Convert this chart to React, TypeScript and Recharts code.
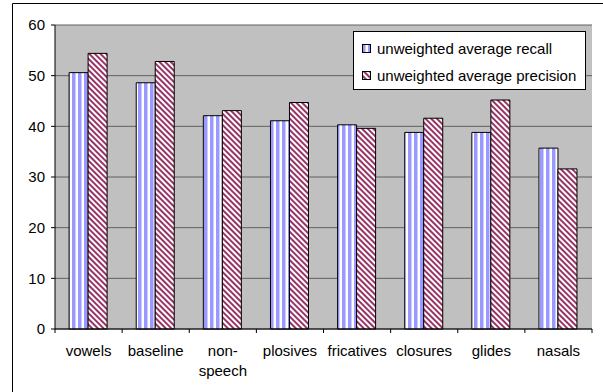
import React from "react";
import { BarChart, Bar, XAxis, YAxis, CartesianGrid } from "recharts";

const categories = ["vowels", "baseline", "non-speech", "plosives", "fricatives", "closures", "glides", "nasals"];
const recall = [50.6, 48.6, 42.1, 41.1, 40.3, 38.8, 38.8, 35.7];
const precision = [54.4, 52.8, 43.1, 44.7, 39.6, 41.6, 45.2, 31.6];
const yTicks = [0, 10, 20, 30, 40, 50, 60];
const seriesNames = ["unweighted average recall", "unweighted average precision"];

const data = categories.map((name, i) => ({
  name,
  recall: recall[i],
  precision: precision[i],
}));

const FONT = "Arial, 'Liberation Sans', sans-serif";

function CategoryTick(props: any) {
  const { x, y, payload, index, width, visibleTicksCount } = props;
  const band = width / visibleTicksCount;
  const label: string = payload.value;
  const lines = label.includes("-") ? [label.split("-")[0] + "-", label.split("-")[1]] : [label];
  return (
    <g>
      <line x1={x - band / 2} x2={x - band / 2} y1={y - 4} y2={y} stroke="#000" />
      {index === visibleTicksCount - 1 && (
        <line x1={x + band / 2} x2={x + band / 2} y1={y - 4} y2={y} stroke="#000" />
      )}
      <text x={x} y={y} textAnchor="middle" fill="#000" fontSize={15} fontFamily={FONT}>
        {lines.map((l, i) => (
          <tspan key={i} x={x} dy={i === 0 ? 23 : 20}>
            {l}
          </tspan>
        ))}
      </text>
    </g>
  );
}

function LegendBox() {
  const fills = ["url(#recallPat)", "url(#precisionPat)"];
  return (
    <div
      style={{
        position: "absolute",
        left: 353,
        top: 31,
        width: 233,
        height: 59,
        boxSizing: "border-box",
        border: "1px solid #000",
        background: "#fff",
        fontFamily: FONT,
        fontSize: 15,
        color: "#000",
        paddingTop: 4,
      }}
    >
      {seriesNames.map((label, i) => (
        <div key={label} style={{ display: "flex", alignItems: "center", height: 24, marginTop: i === 0 ? 0 : 3 }}>
          <svg width={9} height={9} style={{ marginLeft: 8, marginRight: 6 }}>
            <rect x={0.5} y={0.5} width={8} height={8} fill={fills[i]} stroke="#000" />
          </svg>
          <span>{label}</span>
        </div>
      ))}
    </div>
  );
}

export default function App() {
  return (
    <div style={{ position: "absolute", left: 0, top: 0, width: 603, height: 392, overflow: "hidden", background: "#fff" }}>
      <style>{"html, body { margin: 0; overflow: hidden; }"}</style>
      <svg width={603} height={392} style={{ position: "absolute", left: 0, top: 0 }}>
        <path d="M12.5,392 L12.5,3.5 L603,3.5" fill="none" stroke="#000" />
      </svg>
      <div style={{ position: "absolute", left: 0, top: 0 }}>
        <BarChart
          width={603}
          height={392}
          data={data}
          margin={{ top: 25, right: 11, bottom: 33, left: 0 }}
          barCategoryGap="21%"
          barGap={0}
        >
          <defs>
            <pattern id="recallPat" patternUnits="userSpaceOnUse" width={6} height={6}>
              <rect x={0} y={0} width={6} height={6} fill="#fff" />
              <rect x={0} y={0} width={3} height={6} fill="#9999ff" />
              <rect x={3} y={0} width={1} height={6} fill="#ccccff" />
            </pattern>
            <pattern id="precisionPat" patternUnits="userSpaceOnUse" width={4} height={4} patternTransform="rotate(-45)">
              <rect x={0} y={0} width={4} height={4} fill="#fff" />
              <rect x={0} y={0} width={2} height={4} fill="#993366" />
            </pattern>
          </defs>
          <CartesianGrid fill="#c0c0c0" stroke="#606060" vertical={false} />
          <XAxis
            dataKey="name"
            height={30}
            axisLine={{ stroke: "#000" }}
            tickLine={false}
            tickSize={4}
            tickMargin={0}
            interval={0}
            tick={<CategoryTick />}
          />
          <YAxis
            width={55}
            domain={[0, 60]}
            ticks={yTicks}
            interval={0}
            axisLine={{ stroke: "#000" }}
            tickLine={{ stroke: "#000" }}
            tickSize={4}
            tickMargin={6}
            tick={{ fill: "#000", fontSize: 15, fontFamily: FONT }}
          />
          <Bar dataKey="recall" name={seriesNames[0]} fill="url(#recallPat)" stroke="#000" strokeWidth={1} isAnimationActive={false} />
          <Bar dataKey="precision" name={seriesNames[1]} fill="url(#precisionPat)" stroke="#000" strokeWidth={1} isAnimationActive={false} />
        </BarChart>
      </div>
      <LegendBox />
    </div>
  );
}
